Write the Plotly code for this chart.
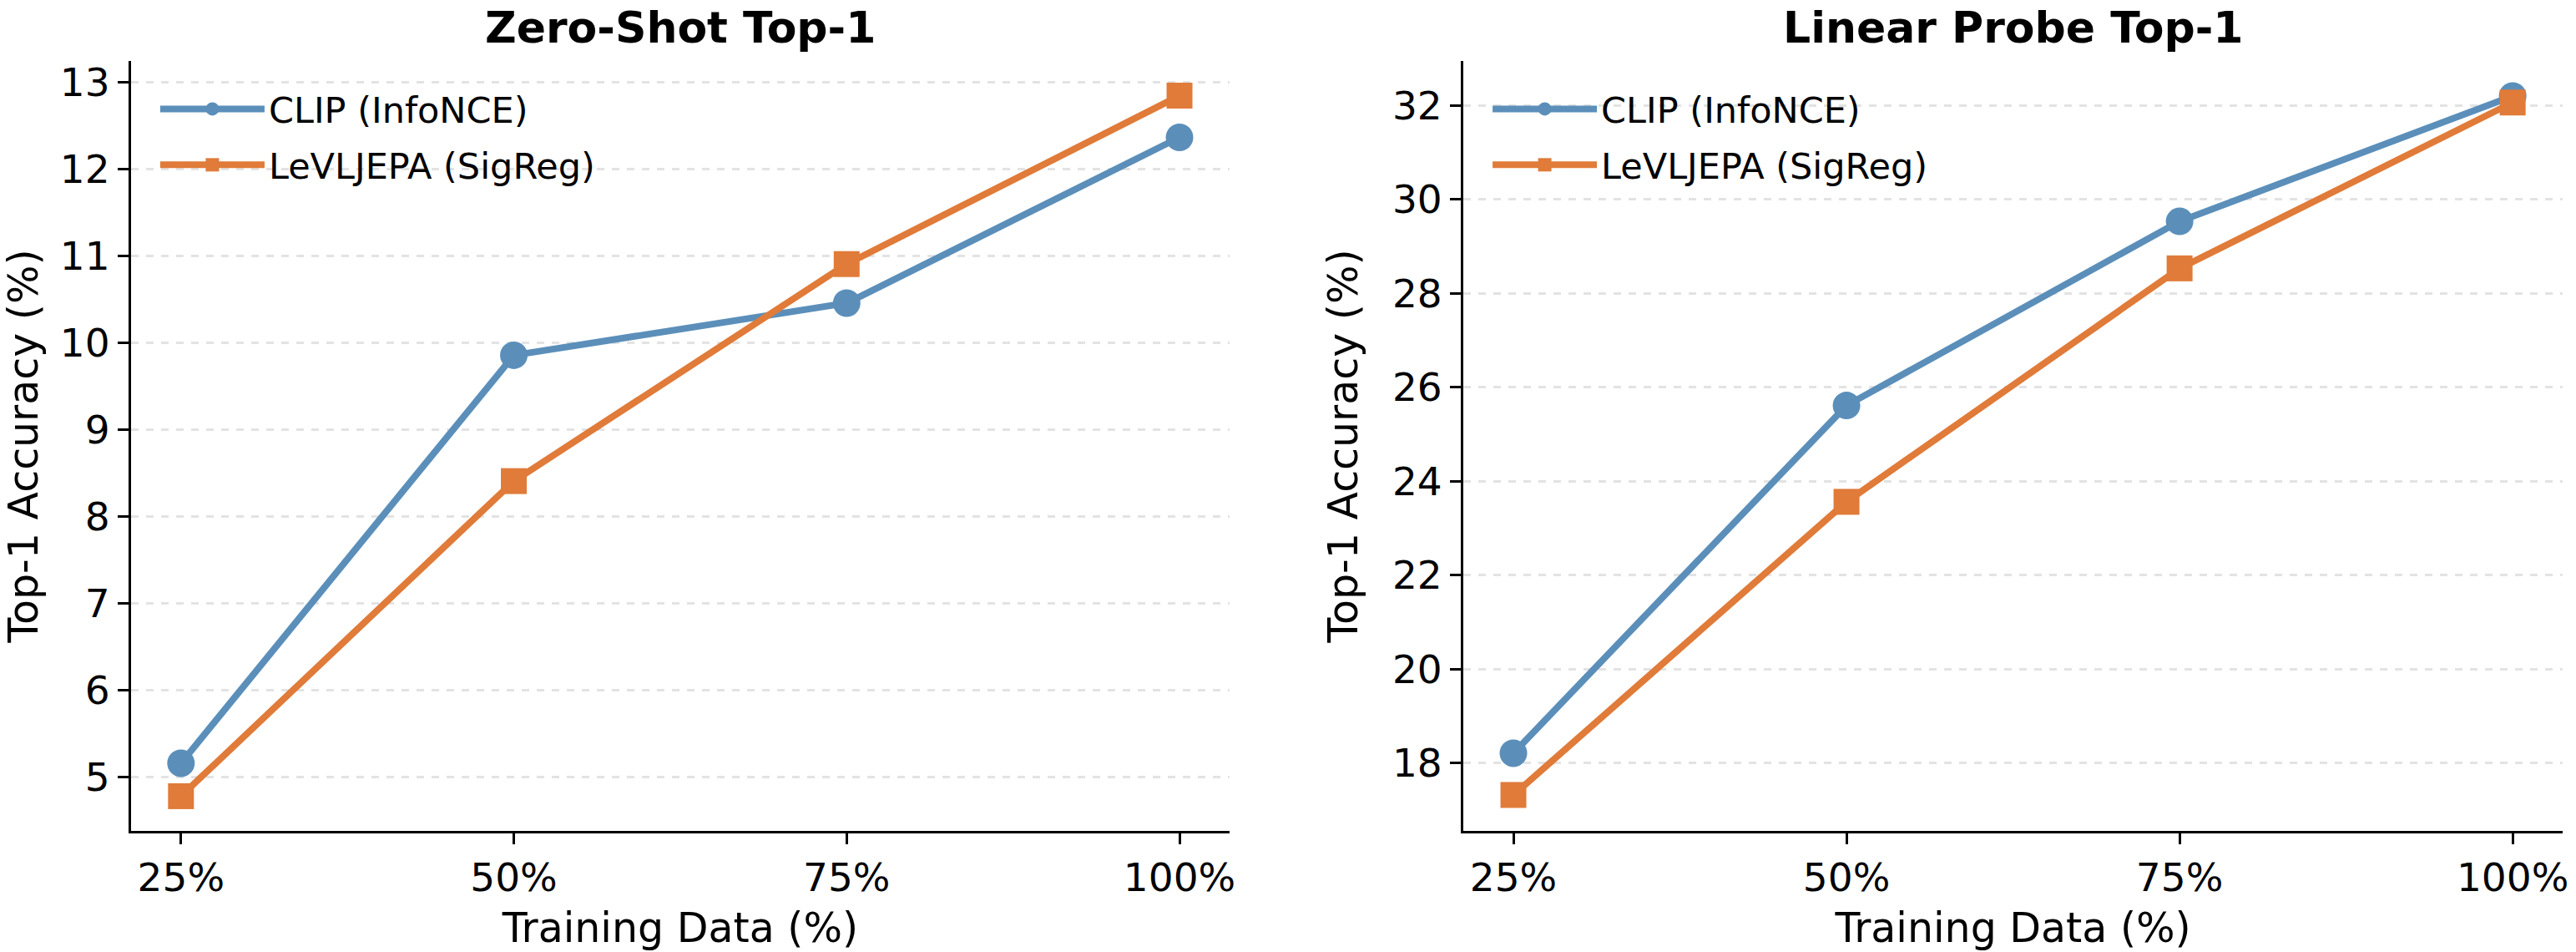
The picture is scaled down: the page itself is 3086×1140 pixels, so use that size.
import plotly.graph_objects as go
from plotly.subplots import make_subplots

training_pct = [25, 50, 75, 100]
tick_labels = ["25%", "50%", "75%", "100%"]

zs_clip = [5.16, 9.86, 10.46, 12.37]
zs_lev = [4.78, 8.41, 10.91, 12.85]

lp_clip = [18.21, 25.61, 29.53, 32.20]
lp_lev = [17.32, 23.56, 28.53, 32.06]

BLUE = "#5B8FBA"
ORANGE = "#E07B39"
FONT = "DejaVu Sans"

W, H = 3086, 1140
ML, MR, MT, MB = 157, 9, 73, 144
PW = W - ML - MR
PH = H - MT - MB

def px_x(p):
    return (p - ML) / PW

def px_y(p):
    return (H - MB - p) / PH

fig = make_subplots(rows=1, cols=2)

def add(col, clip, lev, legend):
    fig.add_trace(go.Scatter(x=training_pct, y=clip, mode="lines+markers",
                             name="CLIP (InfoNCE)", legendgroup=f"a{col}",
                             line=dict(color=BLUE, width=8),
                             marker=dict(symbol="circle", size=33, color=BLUE),
                             legend=legend), row=1, col=col)
    fig.add_trace(go.Scatter(x=training_pct, y=lev, mode="lines+markers",
                             name="LeVLJEPA (SigReg)", legendgroup=f"b{col}",
                             line=dict(color=ORANGE, width=8),
                             marker=dict(symbol="square", size=31, color=ORANGE),
                             legend=legend), row=1, col=col)

add(1, zs_clip, zs_lev, "legend")
add(2, lp_clip, lp_lev, "legend2")

dom1 = [0, px_x(1476)]
dom2 = [px_x(1757), 1.0]

axis_common = dict(
    showline=True, linecolor="black", linewidth=3, mirror=False,
    ticks="outside", ticklen=13, tickwidth=3, tickcolor="black",
    tickfont=dict(family=FONT, size=47, color="black"),
    zeroline=False,
)

fig.update_xaxes(**axis_common, showgrid=False,
                 tickvals=training_pct, ticktext=tick_labels,
                 range=[21.25, 103.75],
                 title=dict(text="Training Data (%)", font=dict(family=FONT, size=49, color="black"), standoff=18))
fig.update_yaxes(**axis_common, showgrid=True, gridcolor="#E3E3E3", gridwidth=3, griddash="dash",
                 title=dict(text="Top-1 Accuracy (%)", font=dict(family=FONT, size=49, color="black"), standoff=26))

fig.update_xaxes(domain=dom1, row=1, col=1)
fig.update_xaxes(domain=dom2, row=1, col=2)
fig.update_yaxes(domain=[0, 1], range=[4.38, 13.25], tickvals=[5, 6, 7, 8, 9, 10, 11, 12, 13], row=1, col=1)
fig.update_yaxes(domain=[0, 1], range=[16.555, 32.945], tickvals=[18, 20, 22, 24, 26, 28, 30, 32], row=1, col=2)

titles = [("Zero-Shot Top-1", (dom1[0] + dom1[1]) / 2), ("Linear Probe Top-1", (dom2[0] + dom2[1]) / 2)]
for t, xc in titles:
    fig.add_annotation(text=f"<b>{t}</b>", x=xc, y=px_y(33), xref="paper", yref="paper",
                       xanchor="center", yanchor="middle", showarrow=False,
                       font=dict(family=FONT, size=52, color="black"))

leg_common = dict(font=dict(family=FONT, size=43, color="black"), bgcolor="rgba(255,255,255,0)",
                  xanchor="left", yanchor="top", itemwidth=125, tracegroupgap=8,
                  itemsizing="trace")
fig.update_layout(
    width=W, height=H,
    margin=dict(l=ML, r=MR, t=MT, b=MB),
    paper_bgcolor="white", plot_bgcolor="white",
    showlegend=True,
    legend=dict(**leg_common, x=px_x(187), y=px_y(96)),
    legend2=dict(**leg_common, x=px_x(1787), y=px_y(96)),
)

fig.write_html("out.html")
